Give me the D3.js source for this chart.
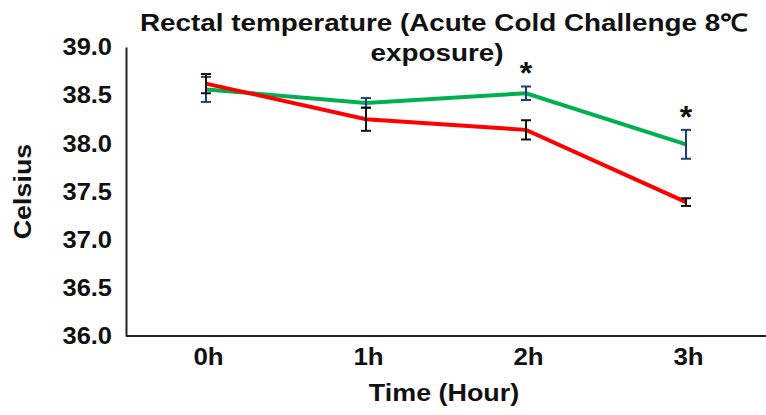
<!DOCTYPE html>
<html>
<head>
<meta charset="utf-8">
<script src="https://cdn.jsdelivr.net/npm/d3@7/dist/d3.min.js"></script>
<style>
  html, body { margin: 0; padding: 0; background: #fff; }
  svg { display: block; font-family: "Liberation Sans", Arial, sans-serif; }
</style>
</head>
<body>
<svg id="chart" width="766" height="415"></svg>
<script>
const categories = ["0h", "1h", "2h", "3h"];
const yTicks = [36.0, 36.5, 37.0, 37.5, 38.0, 38.5, 39.0];
const redValues = [38.62, 38.25, 38.14, 37.39];
const redErrors = [0.10, 0.12, 0.10, 0.04];
const greenValues = [38.56, 38.42, 38.52, 37.99];
const greenErrors = [0.13, 0.05, 0.07, 0.15];
const significant = [false, false, true, true];
const titleLines = ["Rectal temperature (Acute Cold Challenge 8\u2103", "exposure)"];
const xLabel = "Time (Hour)";
const yLabel = "Celsius";

const svg = d3.select("#chart");
const mLeft = 126, mRight = 766, mTop = 47, mBottom = 336;

const x = d3.scalePoint().domain(categories).range([mLeft, mRight]).padding(0.5);
const y = d3.scaleLinear().domain([36, 39]).range([mBottom, mTop]);

// horizontal stretch helper (reference text is slightly wide)
function stretch(sel, factor) {
  sel.each(function () {
    const len = this.getComputedTextLength();
    d3.select(this).attr("textLength", len * factor).attr("lengthAdjust", "spacingAndGlyphs");
  });
}

// axes
const yAxis = d3.axisLeft(y).tickValues(yTicks).tickSize(0).tickPadding(14)
  .tickFormat(d3.format(".1f"));
const gy = svg.append("g").attr("transform", `translate(${mLeft},0)`).call(yAxis);
gy.select(".domain").attr("stroke", "#222").attr("stroke-width", 2);
gy.selectAll("text").attr("font-size", 24).attr("font-weight", "bold").attr("fill", "#111");
stretch(gy.selectAll("text"), 1.06);

const xAxis = d3.axisBottom(x).tickSize(0).tickPadding(12);
const gx = svg.append("g").attr("transform", `translate(0,${mBottom})`).call(xAxis);
gx.select(".domain").attr("stroke", "#222").attr("stroke-width", 2).attr("d", `M${mLeft},0H${mRight + 10}`);
gx.selectAll("text").attr("font-size", 24).attr("font-weight", "bold").attr("fill", "#111")
  .attr("dx", 2);
stretch(gx.selectAll("text"), 1.08);

// lines
const line = d3.line().x((d, i) => x(categories[i])).y(d => y(d));
svg.append("path").datum(greenValues).attr("d", line)
  .attr("fill", "none").attr("stroke", "#00B050").attr("stroke-width", 4);
svg.append("path").datum(redValues).attr("d", line)
  .attr("fill", "none").attr("stroke", "#FF0000").attr("stroke-width", 4);

// error bars
function errorBars(vals, errs, color) {
  const g = svg.append("g").attr("stroke", color).attr("stroke-width", 2).attr("fill", "none");
  vals.forEach((v, i) => {
    const cx = x(categories[i]);
    const y1 = y(v + errs[i]), y2 = y(v - errs[i]);
    g.append("line").attr("x1", cx).attr("x2", cx).attr("y1", y1).attr("y2", y2);
    g.append("line").attr("x1", cx - 5).attr("x2", cx + 5).attr("y1", y1).attr("y2", y1);
    g.append("line").attr("x1", cx - 5).attr("x2", cx + 5).attr("y1", y2).attr("y2", y2);
  });
}
errorBars(greenValues, greenErrors, "#203C7C");
errorBars(redValues, redErrors, "#111");

// significance markers
categories.forEach((c, i) => {
  if (!significant[i]) return;
  const yy = y(Math.max(greenValues[i] + greenErrors[i], redValues[i] + redErrors[i]));
  svg.append("text").attr("x", x(c)).attr("y", yy - 2)
    .attr("text-anchor", "middle").attr("font-size", 32).attr("font-weight", "bold")
    .attr("fill", "#111").text("*");
});

// title
const titleX = [444, 437];
titleLines.forEach((t, i) => {
  const tt = svg.append("text").attr("x", titleX[i]).attr("y", 31 + i * 30)
    .attr("text-anchor", "middle").attr("font-size", 24).attr("font-weight", "bold")
    .attr("fill", "#111").text(t);
  stretch(tt, 1.16);
});

// axis titles
const xl = svg.append("text").attr("x", 444).attr("y", 401).attr("text-anchor", "middle")
  .attr("font-size", 24).attr("font-weight", "bold").attr("fill", "#111").text(xLabel);
stretch(xl, 1.12);
const yl = svg.append("text").attr("transform", `translate(31,${(mTop + mBottom) / 2}) rotate(-90)`)
  .attr("text-anchor", "middle").attr("font-size", 24).attr("font-weight", "bold")
  .attr("fill", "#111").text(yLabel);
stretch(yl, 1.12);
</script>
</body>
</html>
